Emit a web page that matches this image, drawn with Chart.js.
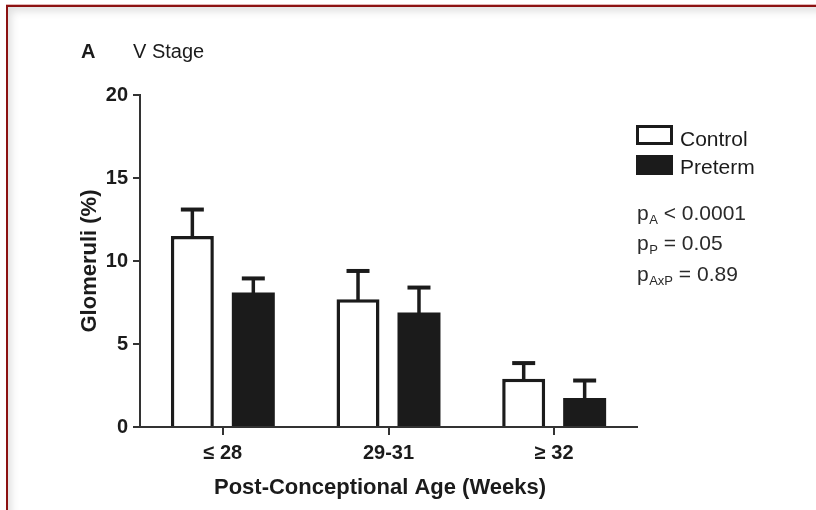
<!DOCTYPE html>
<html>
<head>
<meta charset="utf-8">
<script src="https://cdn.jsdelivr.net/npm/chart.js@4"></script>
<style>
  html, body { margin: 0; padding: 0; background: #fff; }
  #wrap { position: relative; width: 816px; height: 510px; overflow: hidden; background: #fff; }
  #frame {
    position: absolute; left: 6px; top: 5px; width: 830px; height: 530px;
    border-top: 2px solid #8c1212; border-left: 2px solid #8c1212;
    box-shadow: inset 3px 4px 9px rgba(0,0,0,0.13), 0 -1px 0 #e2b5b5;
  }
  #c { position: absolute; left: 0; top: 0; }
</style>
</head>
<body>
<div id="wrap">
  <div id="frame"></div>
  <canvas id="c" width="816" height="510"></canvas>
</div>
<script>
// Glomeruli in V stage by post-conceptional age, mean + SEM
const categories = ['\u2264 28', '29-31', '\u2265 32'];
const controlMean = [11.5, 7.7, 2.9];
const controlSem  = [1.6, 1.7, 0.95];
const pretermMean = [8.1, 6.9, 1.75];
const pretermSem  = [0.85, 1.5, 1.05];
const yTicks = [0, 5, 10, 15, 20];
const pValues = [
  { sub: 'A',   text: ' < 0.0001' },
  { sub: 'P',   text: ' = 0.05' },
  { sub: 'AxP', text: ' = 0.89' }
];

const INK = '#1b1b1b';
const FONT = '"Liberation Sans", Arial, Helvetica, sans-serif';

// Upper SEM whiskers with caps
const errorBars = {
  id: 'errorBars',
  afterDatasetsDraw(chart) {
    const ctx = chart.ctx;
    const y = chart.scales.y;
    ctx.save();
    ctx.strokeStyle = INK;
    ctx.lineCap = 'butt';
    chart.data.datasets.forEach((ds, i) => {
      const meta = chart.getDatasetMeta(i);
      meta.data.forEach((bar, j) => {
        const top = y.getPixelForValue(ds.data[j] + ds.sem[j]);
        ctx.lineWidth = 3.5;
        ctx.beginPath();
        ctx.moveTo(bar.x, bar.y + 1);
        ctx.lineTo(bar.x, top);
        ctx.stroke();
        ctx.lineWidth = 4;
        ctx.beginPath();
        ctx.moveTo(bar.x - 11.5, top);
        ctx.lineTo(bar.x + 11.5, top);
        ctx.stroke();
      });
    });
    ctx.restore();
  }
};

// Panel heading, axis titles, key and statistics
const annotations = {
  id: 'annotations',
  afterDraw(chart) {
    const ctx = chart.ctx;
    const area = chart.chartArea;
    ctx.save();
    ctx.fillStyle = INK;
    ctx.textBaseline = 'alphabetic';

    ctx.font = 'bold 20px ' + FONT;
    ctx.textAlign = 'left';
    ctx.fillText('A', 81, 58);
    ctx.font = '20px ' + FONT;
    ctx.fillText('V Stage', 133, 58);

    // y title
    ctx.save();
    ctx.translate(96, (area.top + area.bottom) / 2);
    ctx.rotate(-Math.PI / 2);
    ctx.font = 'bold 22px ' + FONT;
    ctx.textAlign = 'center';
    ctx.fillText('Glomeruli (%)', 0, 0);
    ctx.restore();

    // x title
    ctx.font = 'bold 22px ' + FONT;
    ctx.textAlign = 'center';
    ctx.fillText('Post-Conceptional Age (Weeks)', 380, 494);

    // key
    const keyX = 636, keyW = 37, keyH = 20;
    const rows = [
      { label: chart.data.datasets[0].label, fill: '#ffffff', y: 125, base: 146 },
      { label: chart.data.datasets[1].label, fill: INK, y: 155, base: 174 }
    ];
    rows.forEach(r => {
      ctx.fillStyle = r.fill;
      ctx.fillRect(keyX, r.y, keyW, keyH);
      ctx.strokeStyle = INK;
      ctx.lineWidth = 3;
      ctx.strokeRect(keyX + 1.5, r.y + 1.5, keyW - 3, keyH - 3);
      ctx.fillStyle = INK;
      ctx.font = '21px ' + FONT;
      ctx.textAlign = 'left';
      ctx.fillText(r.label, 680, r.base);
    });

    // p values with subscripts
    const bases = [220, 250, 281];
    pValues.forEach((p, k) => {
      let x = 637;
      const b = bases[k];
      ctx.fillStyle = '#2a2a2a';
      ctx.font = '21px ' + FONT;
      ctx.fillText('p', x, b);
      x += ctx.measureText('p').width + 0.5;
      ctx.font = '13px ' + FONT;
      ctx.fillText(p.sub, x, b + 4);
      x += ctx.measureText(p.sub).width;
      ctx.font = '21px ' + FONT;
      ctx.fillText(p.text, x, b);
    });
    ctx.restore();
  }
};

new Chart(document.getElementById('c'), {
  type: 'bar',
  data: {
    labels: categories,
    datasets: [
      {
        label: 'Control', data: controlMean, sem: controlSem,
        backgroundColor: '#ffffff', borderColor: INK, borderWidth: 3.5,
        borderSkipped: 'start'
      },
      {
        label: 'Preterm', data: pretermMean, sem: pretermSem,
        backgroundColor: INK, borderColor: INK, borderWidth: 0
      }
    ]
  },
  options: {
    responsive: false,
    devicePixelRatio: 1,
    animation: false,
    categoryPercentage: 0.736,
    barPercentage: 0.705,
    layout: { padding: { left: 80, top: 95, right: 179, bottom: 33 } },
    plugins: { legend: { display: false }, tooltip: { enabled: false }, title: { display: false } },
    scales: {
      x: {
        offset: true,
        afterFit(scale) { scale.height = 50; },
        grid: { offset: false, drawOnChartArea: false, drawTicks: true, tickLength: 8, color: '#333', lineWidth: 2 },
        border: { display: true, color: '#333', width: 2 },
        ticks: { color: INK, padding: 6, font: { family: FONT, size: 20, weight: 'bold' } }
      },
      y: {
        min: 0, max: 20,
        afterFit(scale) { scale.width = 60; },
        afterBuildTicks(scale) { scale.ticks = yTicks.map(v => ({ value: v })); },
        grid: { drawOnChartArea: false, drawTicks: true, tickLength: 7, color: '#333', lineWidth: 2 },
        border: { display: true, color: '#333', width: 2 },
        ticks: { color: INK, padding: 5, font: { family: FONT, size: 20, weight: 'bold' } }
      }
    }
  },
  plugins: [errorBars, annotations]
});
</script>
</body>
</html>
